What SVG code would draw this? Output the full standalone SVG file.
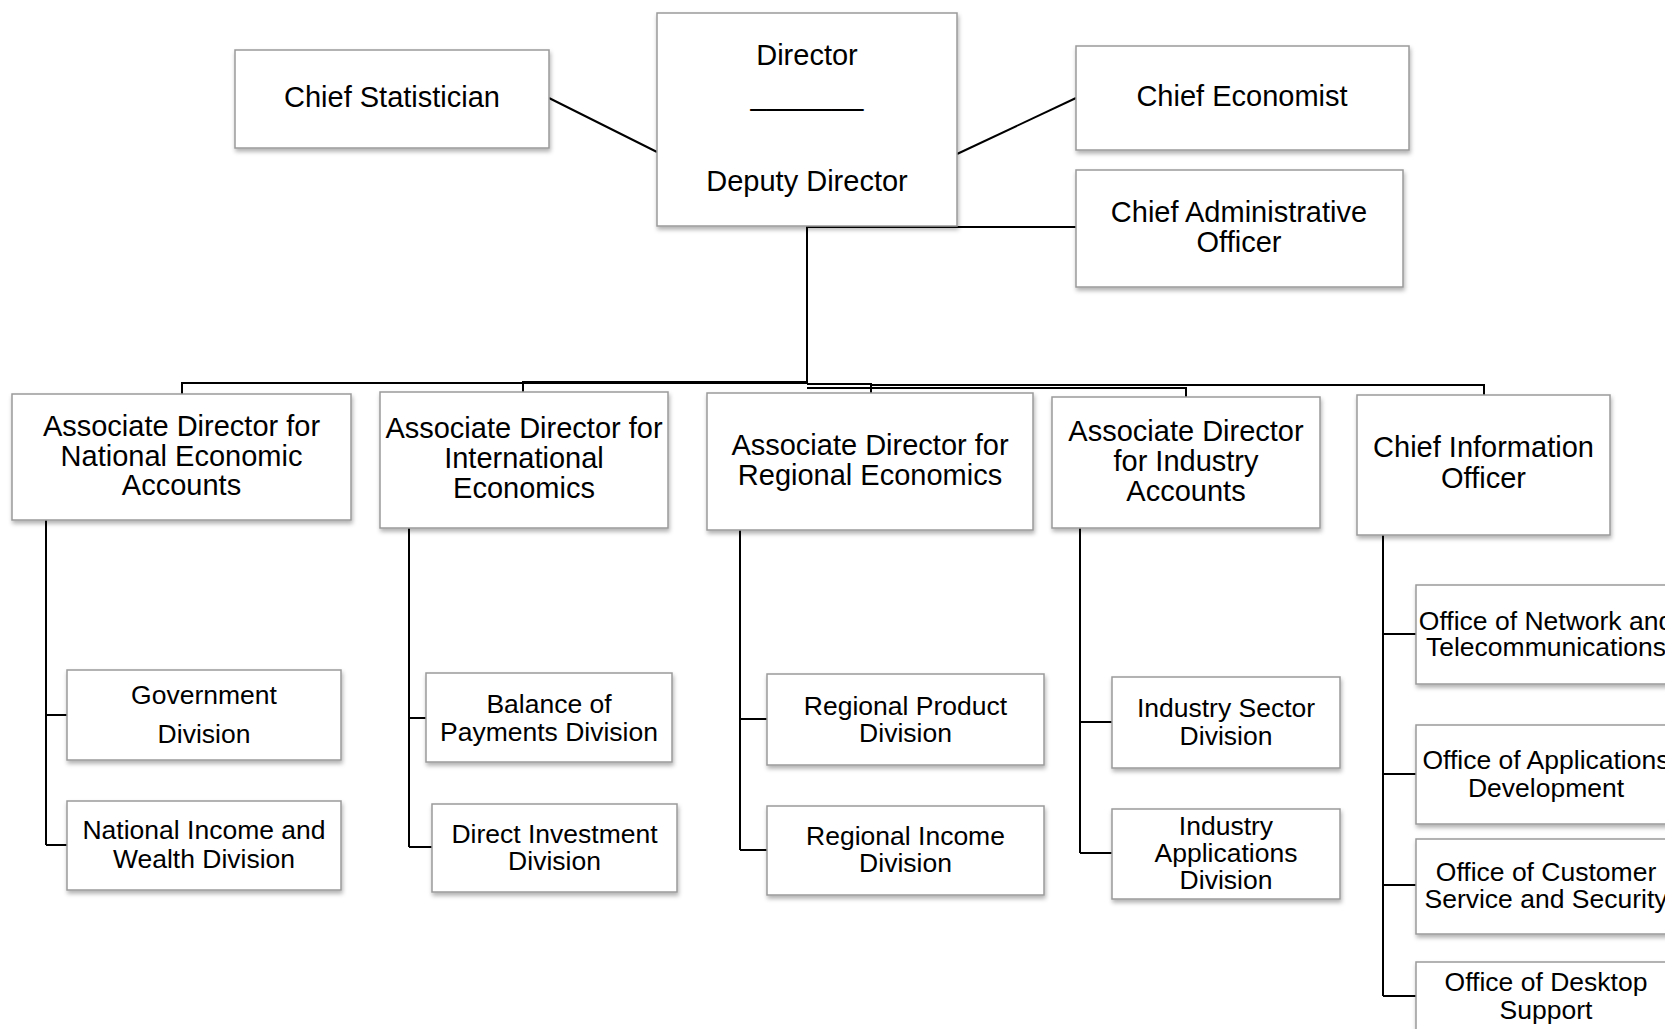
<svg xmlns="http://www.w3.org/2000/svg" width="1665" height="1029" viewBox="0 0 1665 1029">
  <style>
    .box { fill: #ffffff; stroke: #9a9a9a; stroke-width: 1.5; filter: url(#shadow); }
    .t1 { font-family: "Liberation Sans", Arial, sans-serif; font-size: 29px; fill: #000; text-anchor: middle; }
    .t2 { font-family: "Liberation Sans", Arial, sans-serif; font-size: 26.5px; fill: #000; text-anchor: middle; }
    .conn { fill: none; stroke: #000; stroke-width: 2; }
  </style>
  <defs>
    <filter id="shadow" x="-5%" y="-10%" width="115%" height="130%">
      <feDropShadow dx="1" dy="3" stdDeviation="2" flood-color="#000" flood-opacity="0.3"/>
    </filter>
  </defs>
  <rect width="1665" height="1029" fill="#ffffff"/>

  <g id="connectors">
    <line class="conn" x1="549" y1="98" x2="657" y2="152" stroke-width="1.6"/>
    <line class="conn" x1="1076" y1="98" x2="957" y2="154" stroke-width="1.6"/>
    <polyline class="conn" points="807,226 807,383"/>
    <polyline class="conn" points="807,227 1076,227"/>
    <polyline class="conn" points="807,383 182,383 182,394"/>
    <polyline class="conn" points="807,382 523,382 523,392"/>
    <polyline class="conn" points="807,384 871,384 871,393"/>
    <polyline class="conn" points="807,388 1186,388 1186,397"/>
    <polyline class="conn" points="871,385 1484,385 1484,395"/>
    <polyline class="conn" points="46,520 46,845"/>
    <polyline class="conn" points="46,715 67,715"/>
    <polyline class="conn" points="46,845 67,845"/>
    <polyline class="conn" points="409,528 409,847"/>
    <polyline class="conn" points="409,718 426,718"/>
    <polyline class="conn" points="409,847 432,847"/>
    <polyline class="conn" points="740,530 740,850"/>
    <polyline class="conn" points="740,719 767,719"/>
    <polyline class="conn" points="740,850 767,850"/>
    <polyline class="conn" points="1080,528 1080,853"/>
    <polyline class="conn" points="1080,722 1112,722"/>
    <polyline class="conn" points="1080,853 1112,853"/>
    <polyline class="conn" points="1383,535 1383,996"/>
    <polyline class="conn" points="1383,634 1416,634"/>
    <polyline class="conn" points="1383,774 1416,774"/>
    <polyline class="conn" points="1383,885 1416,885"/>
    <polyline class="conn" points="1383,996 1416,996"/>
  </g>

  <g id="chief-statistician">
    <rect class="box" x="235" y="50" width="314" height="98"/>
    <text class="t1" x="392" y="107">Chief Statistician</text>
  </g>
  <g id="director">
    <rect class="box" x="657" y="13" width="300" height="213"/>
    <text class="t1" x="807" y="65">Director</text>
    <text class="t1" x="807" y="105">_______</text>
    <text class="t1" x="807" y="191">Deputy Director</text>
  </g>
  <g id="chief-economist">
    <rect class="box" x="1076" y="46" width="333" height="104"/>
    <text class="t1" x="1242" y="106">Chief Economist</text>
  </g>
  <g id="chief-administrative-officer">
    <rect class="box" x="1076" y="170" width="327" height="117"/>
    <text class="t1" x="1239" y="222">Chief Administrative</text>
    <text class="t1" x="1239" y="252">Officer</text>
  </g>

  <g id="ad-national">
    <rect class="box" x="12" y="394" width="339" height="126"/>
    <text class="t1" x="181.5" y="436">Associate Director for</text>
    <text class="t1" x="181.5" y="465.5">National Economic</text>
    <text class="t1" x="181.5" y="495">Accounts</text>
  </g>
  <g id="ad-international">
    <rect class="box" x="380" y="392" width="288" height="136"/>
    <text class="t1" x="524" y="438">Associate Director for</text>
    <text class="t1" x="524" y="468">International</text>
    <text class="t1" x="524" y="498">Economics</text>
  </g>
  <g id="ad-regional">
    <rect class="box" x="707" y="393" width="326" height="137"/>
    <text class="t1" x="870" y="455">Associate Director for</text>
    <text class="t1" x="870" y="485">Regional Economics</text>
  </g>
  <g id="ad-industry">
    <rect class="box" x="1052" y="397" width="268" height="131"/>
    <text class="t1" x="1186" y="441">Associate Director</text>
    <text class="t1" x="1186" y="471">for Industry</text>
    <text class="t1" x="1186" y="501">Accounts</text>
  </g>
  <g id="cio">
    <rect class="box" x="1357" y="395" width="253" height="140"/>
    <text class="t1" x="1483.5" y="457">Chief Information</text>
    <text class="t1" x="1483.5" y="488">Officer</text>
  </g>

  <g id="government-division">
    <rect class="box" x="67" y="670" width="274" height="90"/>
    <text class="t2" x="204" y="703.5">Government</text>
    <text class="t2" x="204" y="742.5">Division</text>
  </g>
  <g id="national-income-wealth">
    <rect class="box" x="67" y="801" width="274" height="89"/>
    <text class="t2" x="204" y="838.5">National Income and</text>
    <text class="t2" x="204" y="867.5">Wealth Division</text>
  </g>
  <g id="balance-of-payments">
    <rect class="box" x="426" y="673" width="246" height="89"/>
    <text class="t2" x="549" y="712.5">Balance of</text>
    <text class="t2" x="549" y="740.5">Payments Division</text>
  </g>
  <g id="direct-investment">
    <rect class="box" x="432" y="804" width="245" height="88"/>
    <text class="t2" x="554.5" y="842.5">Direct Investment</text>
    <text class="t2" x="554.5" y="869.5">Division</text>
  </g>
  <g id="regional-product">
    <rect class="box" x="767" y="674" width="277" height="91"/>
    <text class="t2" x="905.5" y="714.5">Regional Product</text>
    <text class="t2" x="905.5" y="741.5">Division</text>
  </g>
  <g id="regional-income">
    <rect class="box" x="767" y="806" width="277" height="89"/>
    <text class="t2" x="905.5" y="844.5">Regional Income</text>
    <text class="t2" x="905.5" y="871.5">Division</text>
  </g>
  <g id="industry-sector">
    <rect class="box" x="1112" y="677" width="228" height="91"/>
    <text class="t2" x="1226" y="716.5">Industry Sector</text>
    <text class="t2" x="1226" y="744.5">Division</text>
  </g>
  <g id="industry-applications">
    <rect class="box" x="1112" y="809" width="228" height="90"/>
    <text class="t2" x="1226" y="834.5">Industry</text>
    <text class="t2" x="1226" y="861.5">Applications</text>
    <text class="t2" x="1226" y="888.5">Division</text>
  </g>

  <g id="office-network">
    <rect class="box" x="1416" y="585" width="270" height="99"/>
    <text class="t2" x="1546" y="629.5">Office of Network and</text>
    <text class="t2" x="1546" y="655.5">Telecommunications</text>
  </g>
  <g id="office-applications">
    <rect class="box" x="1416" y="725" width="270" height="99"/>
    <text class="t2" x="1546" y="768.5">Office of Applications</text>
    <text class="t2" x="1546" y="796.5">Development</text>
  </g>
  <g id="office-customer">
    <rect class="box" x="1416" y="839" width="270" height="95"/>
    <text class="t2" x="1546" y="880.5">Office of Customer</text>
    <text class="t2" x="1546" y="907.5">Service and Security</text>
  </g>
  <g id="office-desktop">
    <rect class="box" x="1416" y="962" width="270" height="90"/>
    <text class="t2" x="1546" y="990.5">Office of Desktop</text>
    <text class="t2" x="1546" y="1018.5">Support</text>
  </g>
</svg>
